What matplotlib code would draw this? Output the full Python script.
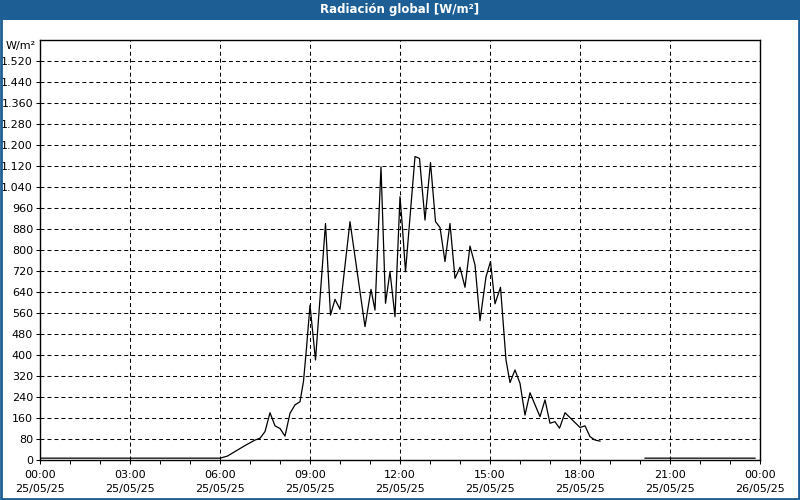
import numpy as np
import pandas as pd
import matplotlib
matplotlib.use("Agg")
import matplotlib.pyplot as plt
import matplotlib.dates as mdates
from matplotlib.ticker import MultipleLocator, FuncFormatter
from matplotlib.patches import Rectangle

# Data (25/05/25) #
times = ["00:00", "06:00", "06:15", "06:35", "06:50", "07:10", "07:20", "07:30",
         "07:40", "07:50", "08:00", "08:10", "08:20", "08:30", "08:40", "08:47",
         "08:53", "09:00", "09:11", "09:31", "09:41", "09:50", "10:00", "10:20",
         "10:50", "11:02", "11:10", "11:22", "11:31", "11:40", "11:50", "12:00",
         "12:05", "12:11", "12:30", "12:39", "12:50", "13:01", "13:11", "13:20",
         "13:30", "13:40", "13:50", "14:00", "14:10", "14:20", "14:30", "14:40",
         "14:52", "15:01", "15:10", "15:21", "15:32", "15:40", "15:50", "16:00",
         "16:10", "16:20", "16:40", "16:50", "17:00", "17:10", "17:19", "17:30",
         "18:00", "18:10", "18:20", "18:30", "18:40",
         "19:20",                       # gap in the record
         "20:10", "23:50"]
values = [7, 7, 15, 38, 55, 76, 83, 108,
          180, 130, 120, 91, 178, 210, 222, 300,
          427, 590, 381, 901, 552, 612, 574, 908,
          508, 650, 571, 1117, 597, 717, 546, 1003,
          883, 717, 1156, 1149, 914, 1133, 908, 886,
          756, 901, 692, 734, 658, 815, 743, 531,
          698, 756, 595, 658, 381, 295, 343, 292,
          171, 256, 165, 229, 140, 146, 121, 180,
          124, 130, 89, 76, 72,
          np.nan,
          7, 7]

day = "2025-05-25"
t = pd.to_datetime([day + " " + s for s in times])
y = np.array(values, dtype=float)

blue = "#1d5f95"

fig = plt.figure(figsize=(8, 5), dpi=100)
fig.patch.set_facecolor("white")

# Title bar and border #
fig.patches.append(Rectangle((0, 0.96), 1, 0.04, transform=fig.transFigure,
                             facecolor=blue, edgecolor="none", zorder=0))
fig.patches.append(Rectangle((0.001, 0.002), 0.998, 0.997, transform=fig.transFigure,
                             facecolor="none", edgecolor=blue, linewidth=2, zorder=5))
fig.text(0.5, 0.981, "Radiación global [W/m²]", color="white", fontsize=8.5,
         fontweight="bold", ha="center", va="center")

ax = fig.add_axes([0.05, 0.08, 0.9, 0.84])
ax.plot(t, y, color="black", linewidth=0.9)

# Axes #
ax.set_xlim(pd.Timestamp(day + " 00:00"), pd.Timestamp("2025-05-26 00:00"))
ax.set_ylim(0, 1600)
ax.xaxis.set_major_locator(mdates.HourLocator(byhour=range(0, 24, 3)))
ax.xaxis.set_minor_locator(mdates.HourLocator())
ax.xaxis.set_major_formatter(mdates.DateFormatter("%H:%M\n%d/%m/%y"))
ax.yaxis.set_major_locator(MultipleLocator(80))
ax.yaxis.set_major_formatter(FuncFormatter(lambda v, p: f"{v:,.0f}".replace(",", ".")))
ax.set_yticks(np.arange(0, 1521, 80))

ax.grid(True, which="major", color="black", linestyle=(0, (3.8, 2.9)), linewidth=0.75)
ax.tick_params(axis="both", which="both", labelsize=8, length=3, width=0.75,
               color="black", labelcolor="black")
ax.tick_params(axis="x", which="major", pad=4)
ax.tick_params(axis="y", pad=2)
for lbl in ax.get_xticklabels():
    lbl.set_linespacing(1.5)
for s in ax.spines.values():
    s.set_linewidth(1)
    s.set_color("black")

ax.text(-0.006, 0.986, "W/m²", transform=ax.transAxes, ha="right", va="center", fontsize=8)

plt.savefig("out.png", dpi=100, facecolor=fig.get_facecolor())
